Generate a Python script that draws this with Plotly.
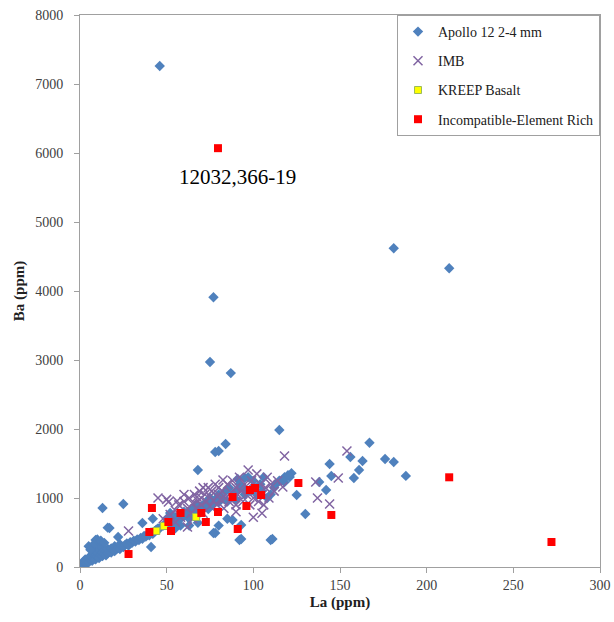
import plotly.graph_objects as go

# Apollo 12 2-4 mm (La, Ba)
apollo_la = [46, 77, 75, 87, 181, 213,
             115, 167, 176, 181, 188, 156, 163, 161, 158, 144, 145, 138, 142, 125, 130, 110, 92, 121, 117, 93,
             68, 80, 84, 78,
             13, 25, 17, 22, 36, 41, 77, 52, 88, 91, 95, 9, 7, 16, 10, 42, 78, 93, 111, 118, 122,
             0, 1, 2, 2, 3, 3, 4, 4, 5, 5, 6, 6, 7, 7, 8, 8, 9, 9, 10, 10, 11, 11, 12, 12, 13, 13, 14, 15, 15,
             16, 16, 17, 18, 18, 19, 20, 20, 21, 22, 23, 23, 24, 25, 26, 27, 28, 29, 30, 31, 32, 33, 34, 35,
             36, 37, 38, 39, 40, 41, 42, 43, 44, 45,
             5, 8, 10, 12, 6, 14,
             46, 48, 50, 50, 52, 54, 55, 56, 58, 60, 60, 62, 63, 64, 65, 66, 67, 68, 70, 70, 72, 73, 74, 75,
             76, 78, 80, 80, 82, 84, 85, 86, 88, 90, 90, 92, 94, 95, 97, 98, 100, 100, 102, 104, 105, 106,
             108, 110, 112, 113, 115, 118, 120, 63, 68, 58, 55, 85, 80]
apollo_ba = [7260, 3910, 2970, 2810, 4620, 4330,
             1985, 1800, 1565, 1522, 1320, 1594, 1536, 1406, 1290, 1493, 1319, 1232, 1116, 1043, 768, 391, 391, 1304, 1261, 609,
             1406, 1681, 1783, 1667,
             855, 913, 565, 435, 638, 290, 493, 783, 681, 1275, 1290, 391, 280, 570, 390, 700, 493, 405, 405, 1230, 1360,
             20, 40, 30, 80, 60, 110, 50, 90, 70, 130, 100, 160, 90, 140, 120, 190, 110, 170, 150, 210, 130, 250, 170, 300, 160, 210, 190, 170, 230,
             200, 260, 220, 210, 270, 240, 230, 300, 260, 280, 260, 330, 300, 290, 320, 340, 310, 360, 350, 380, 370, 400, 390, 420,
             410, 450, 440, 470, 460, 500, 480, 520, 540, 560,
             300, 330, 400, 380, 250, 350,
             560, 600, 640, 700, 620, 680, 720, 650, 700, 740, 800, 760, 700, 820, 780, 850, 900, 760, 820, 880, 900, 950, 840, 1000,
             900, 980, 940, 1050, 1000, 1100, 950, 1150, 1050, 1100, 980, 1200, 1150, 1050, 1300, 1100, 1150, 1250, 1050, 1200, 1100, 1300,
             1000, 1050, 1150, 1200, 1250, 1300, 1330, 600, 640, 600, 560, 700, 600]

# IMB
imb_la = [154, 118, 136, 149, 137, 144, 28, 45, 51, 56, 62, 67.5, 82.5, 97, 117,
          48, 50, 52, 55, 57, 58, 60, 62, 63, 64, 65, 66, 67, 68, 69, 70, 70, 71, 72, 73, 74, 75, 75, 76,
          77, 78, 79, 80, 80, 81, 82, 83, 84, 85, 86, 87, 88, 89, 90, 90, 91, 92, 93, 94, 95, 96, 97, 98,
          99, 100, 101, 102, 103, 104, 105, 106, 107, 108, 109, 110, 112, 114, 60, 65, 55, 71, 105, 100, 90]
imb_ba = [1681, 1609, 1232, 1290, 1000, 913, 522, 1000, 942, 957, 580, 1014, 1261, 1406, 1160,
          700, 980, 760, 820, 900, 720, 950, 850, 1000, 780, 920, 1050, 850, 960, 1100, 900, 1000, 780, 1050, 950, 1150, 880, 1020, 1100,
          960, 1200, 900, 1050, 1150, 980, 1100, 850, 1000, 1200, 950, 1080, 1250, 1000, 1150, 900, 1050, 1300, 1100, 950, 1200, 1050, 1150, 900,
          1250, 1000, 1100, 1350, 950, 1200, 1050, 900, 1150, 1300, 1000, 1200, 1100, 1250, 1050, 700, 650, 1150, 780, 720, 800]

# KREEP Basalt
kreep_la = [44, 48.5, 67]
kreep_ba = [522, 594, 725]

# Incompatible-Element Rich
ier_la = [79.6, 213, 272, 126, 145, 28, 40, 41.5, 51, 52.5, 58, 70, 72.6, 79.6, 88, 91, 96, 98, 101, 104.5]
ier_ba = [6070, 1300, 362, 1217, 754, 188, 507, 855, 652, 522, 783, 783, 652, 797, 1014, 551, 884, 1116, 1145, 1043]

x_ticks = [0, 50, 100, 150, 200, 250, 300]
y_ticks = [0, 1000, 2000, 3000, 4000, 5000, 6000, 7000, 8000]

serif = "Liberation Serif"

fig = go.Figure()
fig.add_trace(go.Scatter(x=apollo_la, y=apollo_ba, mode="markers", name="Apollo 12 2-4 mm",
                         legendgroup="a",
                         marker=dict(symbol="diamond", size=8, color="#4F81BD")))
fig.add_trace(go.Scatter(x=imb_la, y=imb_ba, mode="markers", name="IMB", legendgroup="b",
                         marker=dict(symbol="x-thin-open", size=9, color="#8064A2",
                                     line=dict(width=1.5, color="#8064A2"))))
fig.add_trace(go.Scatter(x=kreep_la, y=kreep_ba, mode="markers", name="KREEP Basalt", legendgroup="c",
                         marker=dict(symbol="square", size=7, color="#FFFF00",
                                     line=dict(width=1, color="#9BBB59"))))
fig.add_trace(go.Scatter(x=ier_la, y=ier_ba, mode="markers", name="Incompatible-Element Rich",
                         legendgroup="d",
                         marker=dict(symbol="square", size=8, color="#FF0000")))

fig.add_annotation(x=91, y=5650, text="12032,366-19", showarrow=False,
                   font=dict(family=serif, size=21, color="#000000"))

fig.update_layout(
    width=614, height=622,
    margin=dict(l=80, r=14, t=15, b=55, autoexpand=False),
    paper_bgcolor="white", plot_bgcolor="white",
    font=dict(family=serif, size=13, color="#404040"),
    legend=dict(x=1, xanchor="right", y=1, yanchor="top",
                bordercolor="#A0A0A0", borderwidth=1, bgcolor="white",
                font=dict(family=serif, size=14, color="#202020"),
                tracegroupgap=8, itemwidth=30),
    xaxis=dict(range=[0, 300], tickvals=x_ticks, showgrid=False, zeroline=False,
               showline=True, linecolor="#A0A0A0", linewidth=1, mirror=True, automargin=False,
               ticks="outside", ticklen=5, tickcolor="#A0A0A0",
               tickfont=dict(family=serif, size=14, color="#404040"),
               title=dict(text="<b>La (ppm)</b>", font=dict(family=serif, size=15, color="#202020"), standoff=4)),
    yaxis=dict(range=[0, 8000], tickvals=y_ticks, showgrid=False, zeroline=False,
               showline=True, linecolor="#A0A0A0", linewidth=1, mirror=True, automargin=False,
               ticks="outside", ticklen=5, tickcolor="#A0A0A0", ticklabelstandoff=8,
               tickfont=dict(family=serif, size=14, color="#404040"),
               title=dict(text="<b>Ba (ppm)</b>", font=dict(family=serif, size=15, color="#202020"), standoff=6)),
)

fig.write_html("out.html")
